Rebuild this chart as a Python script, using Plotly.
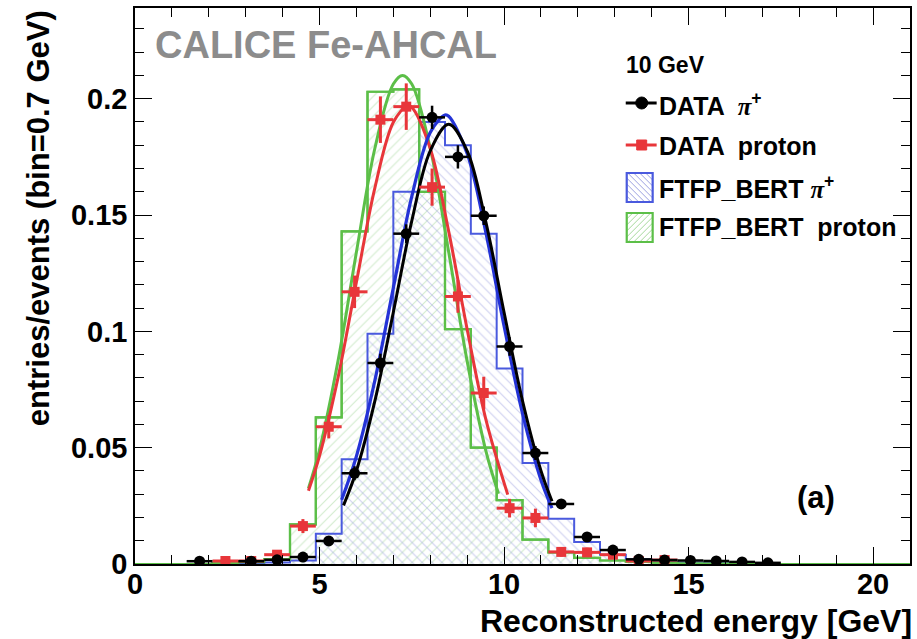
import plotly.graph_objects as go

# ---------------- data ----------------
BIN_EDGES = [0.0, 0.7, 1.4, 2.1, 2.8, 3.5, 4.2, 4.9, 5.6, 6.3, 7.0, 7.7, 8.4, 9.1, 9.8,
             10.5, 11.2, 11.9, 12.6, 13.3, 14.0, 14.7, 15.4, 16.1, 16.8, 17.5, 18.2,
             18.9, 19.6, 20.3, 21.0]

FTFP_PROTON = [0, 0, 0, 0.0003, 0.0008, 0.002, 0.017, 0.063, 0.143, 0.203, 0.204, 0.160,
               0.101, 0.050, 0.0275, 0.0105, 0.005, 0.0026, 0.0015, 0.001, 0.0006, 0.0003,
               0.0002, 0.0001, 0, 0, 0, 0, 0, 0]
FTFP_PION = [0, 0, 0, 0, 0.0003, 0.0006, 0.0015, 0.013, 0.045, 0.099, 0.160, 0.190,
             0.180, 0.142, 0.084, 0.0434, 0.0194, 0.0095, 0.004, 0.002, 0.001, 0.0006,
             0.0003, 0.0002, 0, 0, 0, 0, 0, 0]

DATA_PION_X = [1.75, 3.15, 3.85, 4.55, 5.25, 5.95, 6.65, 7.35, 8.05, 8.75, 9.45, 10.15,
               10.85, 11.55, 12.25, 12.95, 13.65, 14.35, 15.05, 15.75, 16.45, 17.15]
DATA_PION_Y = [0.0012, 0.0012, 0.0018, 0.003, 0.0099, 0.039, 0.0864, 0.142, 0.192, 0.175,
               0.1497, 0.0935, 0.0477, 0.0258, 0.0116, 0.006, 0.002, 0.0017, 0.0015,
               0.0013, 0.0009, 0.0005]
DATA_PION_ERR = [0.0008, 0.0008, 0.001, 0.0012, 0.002, 0.003, 0.004, 0.004, 0.005, 0.005,
                 0.004, 0.004, 0.003, 0.002, 0.0015, 0.001, 0.0008, 0.0008, 0.0007,
                 0.0007, 0.0006, 0.0005]

DATA_PROTON_X = [2.45, 3.15, 3.85, 4.55, 5.25, 5.95, 6.65, 7.35, 8.05, 8.75, 9.45, 10.15,
                 10.85, 11.55, 12.25, 12.95, 13.65, 14.35]
DATA_PROTON_Y = [0.0013, 0.0013, 0.004, 0.0163, 0.059, 0.117, 0.191, 0.1966, 0.162, 0.115,
                 0.0735, 0.024, 0.0198, 0.0052, 0.005, 0.004, 0.0013, 0.0017]
DATA_PROTON_ERR = [0.001, 0.001, 0.0015, 0.003, 0.005, 0.007, 0.010, 0.010, 0.008, 0.007,
                   0.007, 0.004, 0.004, 0.002, 0.002, 0.0015, 0.001, 0.001]
BIN_HALF = 0.35

# fit curves
FIT_PION_X = [5.65, 6.0, 6.5, 7.0, 7.5, 8.0, 8.5, 9.0, 9.5, 10.0, 10.5, 11.0, 11.3]
FIT_PION_Y = [0.0252, 0.0401, 0.0701, 0.1082, 0.1475, 0.1776, 0.189, 0.1776, 0.1475,
              0.1082, 0.0701, 0.0401, 0.0270]
FIT_FTFP_PION_X = [5.6, 6.0, 6.5, 7.0, 7.5, 8.0, 8.4, 8.5, 9.0, 9.5, 10.0, 10.5, 11.0, 11.3]
FIT_FTFP_PION_Y = [0.0276, 0.0463, 0.0789, 0.1187, 0.158, 0.1855, 0.193, 0.1925, 0.1765,
                   0.143, 0.1023, 0.0647, 0.0361, 0.024]
FIT_PROTON_X = [4.7, 5.0, 5.5, 6.0, 6.5, 7.0, 7.38, 7.5, 8.0, 8.5, 9.0, 9.5, 10.1]
FIT_PROTON_Y = [0.0315, 0.0465, 0.080, 0.1212, 0.1617, 0.1899, 0.197, 0.1963, 0.1786,
                0.143, 0.1009, 0.0626, 0.0298]
FIT_FTFP_PROTON_X = [4.7, 5.0, 5.5, 6.0, 6.5, 7.0, 7.25, 7.5, 8.0, 8.5, 9.0, 9.5, 9.85]
FIT_FTFP_PROTON_Y = [0.0325, 0.0491, 0.0872, 0.1341, 0.1787, 0.2063, 0.21, 0.2063, 0.1787,
                     0.1341, 0.0872, 0.0491, 0.0302]

LEGEND_LABELS = ["DATA  <span style='font-family:Liberation Serif'><i>π</i></span><sup>+</sup>",
                 "DATA  proton",
                 "FTFP_BERT <span style='font-family:Liberation Serif'><i>π</i></span><sup>+</sup>",
                 "FTFP_BERT  proton"]

# ---------------- styles ----------------
C_BLACK = "#000000"
C_RED = "#e8363a"
C_BLUE_H = "#4a5ade"
C_BLUE_F = "#2433d6"
C_GREEN = "#5cbf48"
HATCH_BLUE = "rgba(150,155,222,0.95)"
HATCH_GREEN = "rgba(160,214,150,0.95)"
FONT = "Liberation Sans"

W, H = 917, 639
ML, MR, MT, MB = 135, 5, 8, 75
PW, PH = W - ML - MR, H - MT - MB


def px(x):
    return (x - ML) / PW


def py(y):
    return (H - MB - y) / PH


def step_xy(edges, vals):
    return list(edges), list(vals) + [vals[-1]]


fig = go.Figure()

gx, gy = step_xy(BIN_EDGES, FTFP_PROTON)
fig.add_trace(go.Scatter(x=gx, y=gy, mode="lines", line=dict(shape="hv", color=C_GREEN, width=2.2),
                         fill="tozeroy", fillcolor="rgba(0,0,0,0)",
                         fillpattern=dict(shape="/", fgcolor=HATCH_GREEN,
                                          bgcolor="rgba(0,0,0,0)", size=7, solidity=0.16),
                         showlegend=False, hoverinfo="skip"))
bx, by = step_xy(BIN_EDGES, FTFP_PION)
fig.add_trace(go.Scatter(x=bx, y=by, mode="lines", line=dict(shape="hv", color=C_BLUE_H, width=2.0),
                         fill="tozeroy", fillcolor="rgba(0,0,0,0)",
                         fillpattern=dict(shape="\\", fgcolor=HATCH_BLUE,
                                          bgcolor="rgba(0,0,0,0)", size=7, solidity=0.16),
                         showlegend=False, hoverinfo="skip"))
# green hist outline again on top
fig.add_trace(go.Scatter(x=gx, y=gy, mode="lines", line=dict(shape="hv", color=C_GREEN, width=2.2),
                         showlegend=False, hoverinfo="skip"))

fig.add_trace(go.Scatter(x=FIT_FTFP_PROTON_X, y=FIT_FTFP_PROTON_Y, mode="lines",
                         line=dict(shape="spline", color=C_GREEN, width=3), showlegend=False))
fig.add_trace(go.Scatter(x=FIT_PROTON_X, y=FIT_PROTON_Y, mode="lines",
                         line=dict(shape="spline", color=C_RED, width=3), showlegend=False))
fig.add_trace(go.Scatter(x=FIT_FTFP_PION_X, y=FIT_FTFP_PION_Y, mode="lines",
                         line=dict(shape="spline", color=C_BLUE_F, width=3.2), showlegend=False))
fig.add_trace(go.Scatter(x=FIT_PION_X, y=FIT_PION_Y, mode="lines",
                         line=dict(shape="spline", color=C_BLACK, width=3), showlegend=False))

fig.add_trace(go.Scatter(x=DATA_PROTON_X, y=DATA_PROTON_Y, mode="markers",
                         marker=dict(symbol="square", size=10, color=C_RED),
                         error_x=dict(type="constant", value=BIN_HALF, width=0, thickness=3, color=C_RED),
                         error_y=dict(type="data", array=DATA_PROTON_ERR, width=0, thickness=3, color=C_RED),
                         showlegend=False))
fig.add_trace(go.Scatter(x=DATA_PION_X, y=DATA_PION_Y, mode="markers",
                         marker=dict(symbol="circle", size=11, color=C_BLACK),
                         error_x=dict(type="constant", value=BIN_HALF, width=0, thickness=2.5, color=C_BLACK),
                         error_y=dict(type="data", array=DATA_PION_ERR, width=0, thickness=2.5, color=C_BLACK),
                         showlegend=False))

# ---------------- annotations ----------------
ann = []
ann.append(dict(x=px(153), y=py(45), xref="paper", yref="paper", text="CALICE Fe-AHCAL",
                showarrow=False, xanchor="left", yanchor="middle",
                font=dict(family=FONT, size=38, color="#8c8c8c", weight="bold")))
ann.append(dict(x=px(625), y=py(65), xref="paper", yref="paper", text="10 GeV",
                showarrow=False, xanchor="left", yanchor="middle",
                font=dict(family=FONT, size=23, color="black", weight="bold")))
row_y = [104, 146, 187, 227]
for lab, yy in zip(LEGEND_LABELS, row_y):
    ann.append(dict(x=px(658), y=py(yy), xref="paper", yref="paper", text=lab,
                    showarrow=False, xanchor="left", yanchor="middle",
                    font=dict(family=FONT, size=25, color="black", weight="bold")))
ann.append(dict(x=px(818), y=py(497), xref="paper", yref="paper", text="(a)",
                showarrow=False, xanchor="center", yanchor="middle",
                font=dict(family=FONT, size=31, color="black", weight="bold")))
ann.append(dict(x=px(916), y=py(621), xref="paper", yref="paper", text="Reconstructed energy [GeV]",
                showarrow=False, xanchor="right", yanchor="middle",
                font=dict(family=FONT, size=32, color="black", weight="bold")))
ann.append(dict(x=px(38), y=1.0, xref="paper", yref="paper", text="entries/events (bin=0.7 GeV)",
                showarrow=False, xanchor="center", yanchor="top", textangle=-90,
                font=dict(family=FONT, size=31, color="black", weight="bold")))

# ---------------- legend glyphs ----------------
shapes = []
shapes.append(dict(type="line", xref="paper", yref="paper", x0=px(627), x1=px(658),
                   y0=py(103), y1=py(103), line=dict(color=C_BLACK, width=3)))
shapes.append(dict(type="circle", xref="paper", yref="paper", x0=px(637), x1=px(649),
                   y0=py(109), y1=py(97), fillcolor=C_BLACK, line=dict(color=C_BLACK, width=1)))
shapes.append(dict(type="line", xref="paper", yref="paper", x0=px(627), x1=px(658),
                   y0=py(145), y1=py(145), line=dict(color=C_RED, width=3)))
shapes.append(dict(type="rect", xref="paper", yref="paper", x0=px(638), x1=px(648),
                   y0=py(150), y1=py(140), fillcolor=C_RED, line=dict(color=C_RED, width=1)))


def hatch(x0, y0, x1, y1, step, direction, color):
    out = []
    w, h = x1 - x0, y1 - y0
    if direction == "/":
        c = -h + step
        while c < w:
            v0, v1 = max(0, -c), min(h, w - c)
            out.append(dict(type="line", xref="paper", yref="paper",
                            x0=px(x0 + v0 + c), y0=py(y1 - v0), x1=px(x0 + v1 + c), y1=py(y1 - v1),
                            line=dict(color=color, width=1)))
            c += step
    else:
        c = step
        while c < w + h:
            v0, v1 = max(0, c - w), min(h, c)
            out.append(dict(type="line", xref="paper", yref="paper",
                            x0=px(x0 + c - v0), y0=py(y1 - v0), x1=px(x0 + c - v1), y1=py(y1 - v1),
                            line=dict(color=color, width=1)))
            c += step
    return out


shapes += hatch(628, 173, 654, 202, 6, "\\", HATCH_BLUE)
shapes.append(dict(type="rect", xref="paper", yref="paper", x0=px(628), x1=px(654),
                   y0=py(202), y1=py(173), line=dict(color=C_BLUE_H, width=2.2)))
shapes += hatch(628, 213, 654, 242, 6, "/", HATCH_GREEN)
shapes.append(dict(type="rect", xref="paper", yref="paper", x0=px(628), x1=px(654),
                   y0=py(242), y1=py(213), line=dict(color=C_GREEN, width=2.2)))

tickfont = dict(family=FONT, size=29, color="black", weight="bold")
fig.update_layout(
    width=W, height=H, margin=dict(l=ML, r=MR, t=MT, b=MB),
    paper_bgcolor="white", plot_bgcolor="white",
    showlegend=False, annotations=ann, shapes=shapes,
    xaxis=dict(range=[0, 21], dtick=5, tick0=0, ticks="inside", ticklen=17, tickwidth=1.2,
               tickcolor="black", showline=True, linecolor="black", linewidth=1.5,
               mirror="ticks", showgrid=False, zeroline=False, tickfont=tickfont,
               ticklabelstandoff=-7,
               minor=dict(dtick=1, ticks="inside", ticklen=9, tickcolor="black", tickwidth=1.2)),
    yaxis=dict(range=[0, 0.239], dtick=0.05, tick0=0, ticks="inside", ticklen=17, tickwidth=1.2,
               tickcolor="black", showline=True, linecolor="black", linewidth=1.5,
               mirror="ticks", showgrid=False, zeroline=False, tickfont=tickfont,
               minor=dict(dtick=0.01, ticks="inside", ticklen=9, tickcolor="black", tickwidth=1.2)),
)

fig.write_html("out.html")
